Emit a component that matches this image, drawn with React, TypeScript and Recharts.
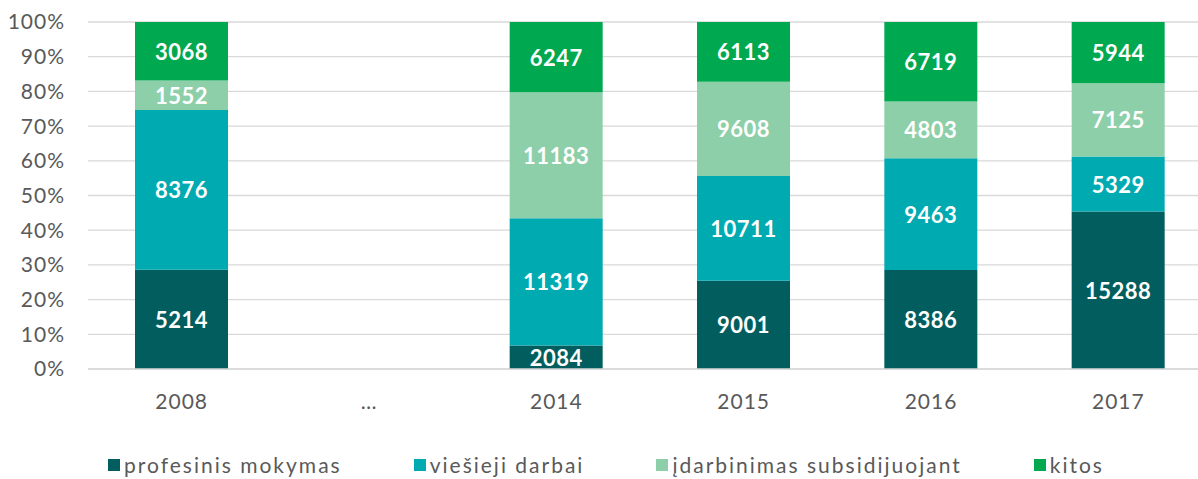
import { BarChart, Bar, XAxis, YAxis, CartesianGrid, Legend, LabelList } from 'recharts';

const years = ['2008', '…', '2014', '2015', '2016', '2017'];
const profesinis = [5214, null, 2084, 9001, 8386, 15288];
const viesieji = [8376, null, 11319, 10711, 9463, 5329];
const idarbinimas = [1552, null, 11183, 9608, 4803, 7125];
const kitos = [3068, null, 6247, 6113, 6719, 5944];
const percentTicks = [0, 0.1, 0.2, 0.3, 0.4, 0.5, 0.6, 0.7, 0.8, 0.9, 1];

const seriesDefs = [
  { key: 'profesinis', name: 'profesinis mokymas', color: '#025E5E' },
  { key: 'viesieji', name: 'viešieji darbai', color: '#00AAB1' },
  { key: 'idarbinimas', name: 'įdarbinimas subsidijuojant', color: '#8DCFA9' },
  { key: 'kitos', name: 'kitos', color: '#00A84F' },
];

const data = years.map((year, i) => ({
  year,
  profesinis: profesinis[i],
  viesieji: viesieji[i],
  idarbinimas: idarbinimas[i],
  kitos: kitos[i],
}));

const FONT = 'Lato, "Open Sans", sans-serif';
const tickStyle = { fill: '#595959', fontSize: 21, fontFamily: FONT, letterSpacing: 1 };

// white bold value in the middle of each segment, nothing for the empty "…" column
const renderValue = (props: any) => {
  const { x, y, width, height, value } = props;
  if (value == null) return null;
  return (
    <text
      x={x + width / 2}
      y={y + height / 2}
      textAnchor="middle"
      dominantBaseline="central"
      fill="#fff"
      fontSize={22}
      fontWeight={700}
      fontFamily={FONT}
      letterSpacing={0.5}
    >
      {value}
    </text>
  );
};

const renderLegend = () => (
  <div
    style={{
      height: 70,
      display: 'flex',
      justifyContent: 'center',
      alignItems: 'flex-end',
      paddingBottom: 2,
      boxSizing: 'border-box',
      fontFamily: FONT,
      fontSize: 21,
      letterSpacing: 2,
      color: '#595959',
    }}
  >
    {seriesDefs.map((s, i) => (
      <div key={s.key} style={{ display: 'flex', alignItems: 'center', marginLeft: i ? 72 : 0 }}>
        <span style={{ width: 12, height: 12, background: s.color, marginRight: 4, display: 'inline-block' }} />
        <span>{s.name}</span>
      </div>
    ))}
  </div>
);

export default function App() {
  return (
    <div
      style={{
        position: 'fixed',
        left: 0,
        top: 0,
        width: 1198,
        height: 479,
        overflow: 'hidden',
        background: '#fff',
      }}
    >
      <BarChart
        width={1212}
        height={479}
        data={data}
        stackOffset="expand"
        barSize={93}
        margin={{ top: 22, right: 0, bottom: 0, left: 0 }}
      >
        <CartesianGrid vertical={false} stroke="#D9D9D9" strokeWidth={1.3} />
        <XAxis
          dataKey="year"
          interval={0}
          height={40}
          tickLine={false}
          tickMargin={19}
          axisLine={{ stroke: '#D9D9D9', strokeWidth: 1.3 }}
          tick={tickStyle}
        />
        <YAxis
          width={88}
          domain={[0, 1]}
          ticks={percentTicks}
          tickFormatter={(v: number) => `${Math.round(v * 100)}%`}
          axisLine={false}
          tickLine={false}
          tickMargin={17}
          tick={tickStyle}
        />
        <Legend verticalAlign="bottom" content={renderLegend} />
        {seriesDefs.map((s) => (
          <Bar key={s.key} dataKey={s.key} name={s.name} stackId="a" fill={s.color} isAnimationActive={false}>
            <LabelList dataKey={s.key} content={renderValue} />
          </Bar>
        ))}
      </BarChart>
    </div>
  );
}
